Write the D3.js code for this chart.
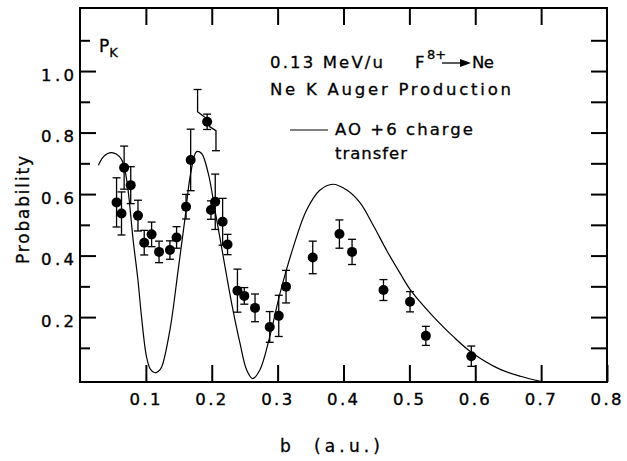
<!DOCTYPE html>
<html>
<head>
<meta charset="utf-8">
<script src="https://cdn.jsdelivr.net/npm/d3@7"></script>
<style>
  body { margin: 0; background: #fff; }
  svg { display: block; font-family: "DejaVu Sans", sans-serif; }
  .axis path.domain { display: none; }
  .axis line { stroke: #000; stroke-width: 2; }
  .axis text { font-size: 16.5px; fill: #000; font-family: "DejaVu Sans", sans-serif; stroke: #000; stroke-width: 0.35; }
  .lbl { fill: #000; stroke: #000; stroke-width: 0.3; }
</style>
</head>
<body>
<div id="chart"></div>
<script>
// Measured points (impact parameter b, probability, error)
const bVals = [0.0555, 0.063, 0.067, 0.077, 0.088, 0.0975, 0.1087, 0.12, 0.1365, 0.1466,
  0.161, 0.168, 0.193, 0.1988, 0.2053, 0.2165, 0.224, 0.239, 0.2494, 0.2657,
  0.288, 0.3017, 0.3128, 0.3533, 0.3938, 0.413, 0.4607, 0.501, 0.525, 0.594];
const probVals = [0.573, 0.537, 0.686, 0.629, 0.53, 0.442, 0.469, 0.412, 0.418, 0.459,
  0.559, 0.711, 0.835, 0.548, 0.575, 0.51, 0.436, 0.286, 0.269, 0.23,
  0.168, 0.204, 0.299, 0.394, 0.47, 0.412, 0.288, 0.25, 0.139, 0.073];
const errVals = [0.08, 0.07, 0.07, 0.06, 0.05, 0.04, 0.04, 0.035, 0.03, 0.035,
  0.04, 0.1, 0.025, 0.03, 0.09, 0.076, 0.033, 0.07, 0.027, 0.045,
  0.05, 0.067, 0.053, 0.053, 0.046, 0.041, 0.034, 0.033, 0.031, 0.033];

// Offset bracket drawn next to the 0.835 point
const bracketUpper = [[0.1785, 0.94], [0.1785, 0.868], [0.1895, 0.85]];
const bracketLower = [[0.196, 0.82], [0.2064, 0.806], [0.2064, 0.741]];

// AO +6 charge transfer curve
const curveB = [0.028, 0.035, 0.042, 0.048, 0.055, 0.063, 0.068, 0.073, 0.0807, 0.088,
  0.0934, 0.101, 0.107, 0.1137, 0.119, 0.124, 0.1365, 0.149, 0.159, 0.168,
  0.177, 0.1846, 0.1947, 0.2049, 0.2175, 0.2302, 0.243, 0.253, 0.262, 0.273,
  0.288, 0.3036, 0.324, 0.344, 0.3644, 0.3837, 0.405, 0.425, 0.4455, 0.466,
  0.486, 0.501, 0.516, 0.537, 0.566, 0.594, 0.638, 0.67, 0.699];
const curveP = [0.694, 0.72, 0.732, 0.735, 0.73, 0.713, 0.68, 0.613, 0.45, 0.32,
  0.201, 0.071, 0.03, 0.019, 0.024, 0.038, 0.158, 0.353, 0.515, 0.667,
  0.738, 0.732, 0.667, 0.548, 0.396, 0.245, 0.114, 0.028, 0.0, 0.028,
  0.136, 0.277, 0.429, 0.548, 0.613, 0.632, 0.613, 0.572, 0.497, 0.415,
  0.342, 0.29, 0.25, 0.2, 0.138, 0.086, 0.03, 0.007, -0.009];

const yMajor = [0.2, 0.4, 0.6, 0.8, 1.0];
const yMinor = [0.1, 0.3, 0.5, 0.7, 0.9, 1.1];
const yRight = [0.1, 0.2, 0.3, 0.4, 0.5, 0.6, 0.7, 0.8, 0.9, 1.0, 1.1];
const xTop = [0.1, 0.2, 0.3, 0.4, 0.5, 0.6, 0.7];
const xBottom = [0.1, 0.2, 0.3, 0.4, 0.5, 0.6, 0.7, 0.8];

const width = 627, height = 461;
const plotL = 80, plotR = 607, plotT = 8, plotB = 382;

const svg = d3.select("#chart").append("svg").attr("width", width).attr("height", height);

const x = d3.scaleLinear().domain([0, 0.8]).range([plotL, plotR]);
const y = d3.scaleLinear().domain([-0.011, 1.205]).range([plotB, plotT]);

// Axes (ticks point inward)
svg.append("g").attr("class", "axis").attr("transform", `translate(${plotL},0)`)
  .call(d3.axisLeft(y).tickValues(yMajor).tickSize(-16).tickPadding(6).tickFormat(d3.format(".1f")))
  .selectAll("text").attr("dy", "0.55em")
  .attr("textLength", 33).attr("lengthAdjust", "spacing");
svg.append("g").attr("class", "axis").attr("transform", `translate(${plotL},0)`)
  .call(d3.axisLeft(y).tickValues(yMinor).tickSize(-10).tickFormat(""));
svg.append("g").attr("class", "axis").attr("transform", `translate(${plotR},0)`)
  .call(d3.axisRight(y).tickValues(yRight).tickSize(-16).tickFormat(""));
svg.append("g").attr("class", "axis").attr("transform", `translate(0,${plotT})`)
  .call(d3.axisTop(x).tickValues(xTop).tickSize(-17).tickFormat(""));
svg.append("g").attr("class", "axis").attr("transform", `translate(0,${plotB})`)
  .call(d3.axisBottom(x).tickValues(xBottom).tickSize(-17).tickPadding(11).tickFormat(d3.format(".1f")))
  .selectAll("text").attr("x", -1.5)
  .attr("textLength", 31).attr("lengthAdjust", "spacing");

// Frame
svg.append("rect")
  .attr("x", plotL).attr("y", plotT).attr("width", plotR - plotL).attr("height", plotB - plotT)
  .attr("fill", "none").attr("stroke", "#000").attr("stroke-width", 2);

// Theory curve
const line = d3.line().x((d) => x(d[0])).y((d) => y(d[1])).curve(d3.curveCatmullRom);
svg.append("path")
  .datum(curveB.map((b, i) => [b, curveP[i]]))
  .attr("d", line).attr("fill", "none").attr("stroke", "#000").attr("stroke-width", 1.2);

// Error bars
const pts = bVals.map((b, i) => ({ b, p: probVals[i], e: errVals[i] }));
const cap = 4;
const eb = svg.append("g").attr("stroke", "#000").attr("stroke-width", 1.3);
pts.forEach((d) => {
  const cx = x(d.b);
  eb.append("line").attr("x1", cx).attr("x2", cx).attr("y1", y(d.p + d.e)).attr("y2", y(d.p - d.e));
  eb.append("line").attr("x1", cx - cap).attr("x2", cx + cap).attr("y1", y(d.p + d.e)).attr("y2", y(d.p + d.e));
  eb.append("line").attr("x1", cx - cap).attr("x2", cx + cap).attr("y1", y(d.p - d.e)).attr("y2", y(d.p - d.e));
});

// Bracket near the high point
const straight = d3.line().x((d) => x(d[0])).y((d) => y(d[1]));
[bracketUpper, bracketLower].forEach((seg) => {
  svg.append("path").attr("d", straight(seg)).attr("fill", "none").attr("stroke", "#000").attr("stroke-width", 1.3);
});
eb.append("line").attr("x1", x(bracketUpper[0][0]) - cap).attr("x2", x(bracketUpper[0][0]) + cap)
  .attr("y1", y(bracketUpper[0][1])).attr("y2", y(bracketUpper[0][1]));
eb.append("line").attr("x1", x(bracketLower[2][0]) - cap).attr("x2", x(bracketLower[2][0]) + cap)
  .attr("y1", y(bracketLower[2][1])).attr("y2", y(bracketLower[2][1]));

// Points
svg.append("g").selectAll("circle").data(pts).join("circle")
  .attr("cx", (d) => x(d.b)).attr("cy", (d) => y(d.p)).attr("r", 5).attr("fill", "#000");

// Labels
const txt = (xp, yp, s, size, len) => {
  const t = svg.append("text").attr("class", "lbl").attr("x", xp).attr("y", yp).attr("font-size", size).text(s);
  if (len) t.attr("textLength", len).attr("lengthAdjust", "spacing");
  return t;
};

const pk = svg.append("text").attr("class", "lbl").attr("x", 99).attr("y", 52).attr("font-size", 17);
pk.append("tspan").text("P");
pk.append("tspan").attr("font-size", 13).attr("dy", 5).text("K");

txt(270, 68, "0.13 MeV/u", 16.5, 113);
txt(415, 68, "F", 16.5);
txt(427, 59, "8+", 13);
svg.append("line").attr("x1", 442).attr("x2", 462).attr("y1", 63).attr("y2", 63)
  .attr("stroke", "#000").attr("stroke-width", 1.3);
svg.append("path").attr("d", "M460,59 L471,63 L460,67 Z").attr("fill", "#000");
txt(472, 68, "Ne", 16.5, 22);
txt(270, 95, "Ne  K  Auger  Production", 16.5, 241);

svg.append("line").attr("x1", 290).attr("x2", 328).attr("y1", 130).attr("y2", 130)
  .attr("stroke", "#000").attr("stroke-width", 1.2);
txt(335, 135, "AO +6  charge", 16.5, 138);
txt(335, 159, "transfer", 16.5, 72);

svg.append("text").attr("class", "lbl").attr("transform", "translate(29,264) rotate(-90)")
  .attr("font-size", 17).attr("textLength", 108).attr("lengthAdjust", "spacing").text("Probability");

txt(280, 452, "b", 17);
txt(314, 452, "(a.u.)", 17, 66);
</script>
</body>
</html>
